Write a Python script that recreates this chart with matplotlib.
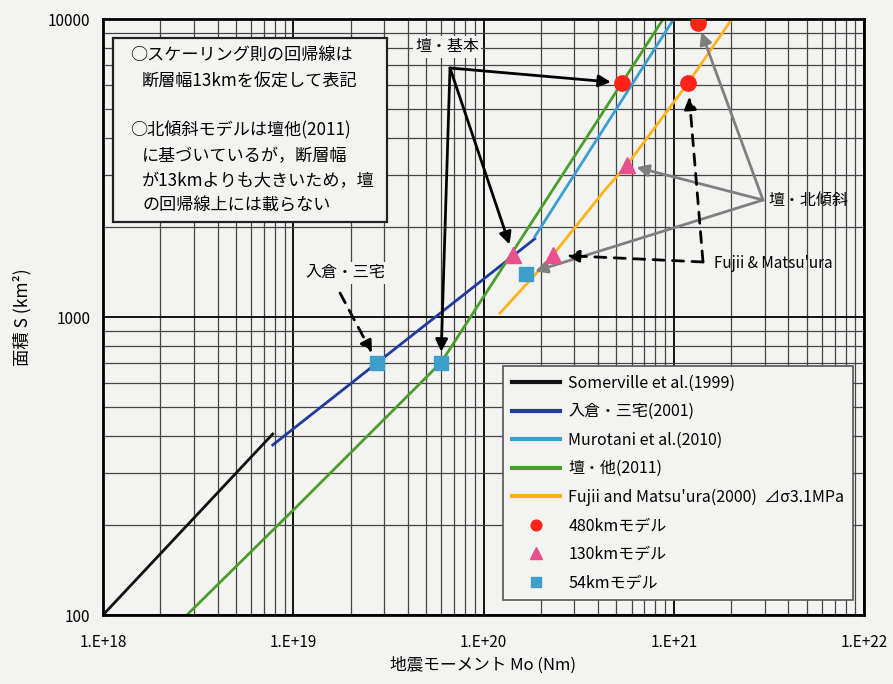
import matplotlib.pyplot as plt
from matplotlib.patches import Rectangle
from matplotlib.ticker import LogLocator, NullFormatter, FixedLocator, FixedFormatter

plt.rcParams['font.family'] = ['Noto Sans CJK JP', 'DejaVu Sans']

# scaling relations: seismic moment Mo (Nm) vs fault area S (km^2)
somerville_mo = [1.0e18, 7.8e18]
somerville_s = [100, 405]
irikura_mo = [7.8e18, 1.86e20]
irikura_s = [372, 1830]
murotani_mo = [1.86e20, 1.0e21]
murotani_s = [1860, 10000]
dan_mo = [2.76e18, 1.0e19, 6.0e19, 8.8e20]
dan_s = [100, 225, 705, 10000]
fujii_mo = [1.22e20, 2.32e20, 4.35e20, 5.68e20, 1.19e21, 2.02e21]
fujii_s = [1030, 1615, 2670, 3240, 6100, 10000]

# source models: 480km / 130km -> [壇・基本, Fujii & Matsu'ura, 壇・北傾斜]
#                54km         -> [入倉・三宅, 壇・基本, 壇・北傾斜]
m480_mo = [5.34e20, 1.19e21, 1.34e21]
m480_s = [6100, 6100, 9700]
m130_mo = [1.43e20, 2.32e20, 5.68e20]
m130_s = [1615, 1615, 3240]
m54_mo = [2.76e19, 5.97e19, 1.67e20]
m54_s = [702, 702, 1393]

x_ticks = [1e18, 1e19, 1e20, 1e21, 1e22]
x_tick_labels = ['1.E+18', '1.E+19', '1.E+20', '1.E+21', '1.E+22']
y_ticks = [100, 1000, 10000]
y_tick_labels = ['100', '1000', '10000']

W, H = 893, 684
bg = '#f3f3f1'
fig = plt.figure(figsize=(W / 100, H / 100), dpi=100, facecolor=bg)
ax = fig.add_axes([103 / W, 1 - 615 / H, 761 / W, 596 / H], facecolor=bg)


def fpx(x, y):
    """pixel position -> figure fraction"""
    return (x / W, 1 - y / H)


ax.set_xscale('log')
ax.set_yscale('log')
ax.set_xlim(1e18, 1e22)
ax.set_ylim(100, 10000)

ax.xaxis.set_major_locator(FixedLocator(x_ticks))
ax.xaxis.set_major_formatter(FixedFormatter(x_tick_labels))
ax.yaxis.set_major_locator(FixedLocator(y_ticks))
ax.yaxis.set_major_formatter(FixedFormatter(y_tick_labels))
for axis in (ax.xaxis, ax.yaxis):
    axis.set_minor_locator(LogLocator(base=10, subs=range(2, 10)))
    axis.set_minor_formatter(NullFormatter())
ax.grid(True, which='major', color='#111111', lw=1.4)
ax.grid(True, which='minor', color='#444444', lw=0.9)
ax.tick_params(which='both', length=0)
ax.tick_params(axis='x', pad=14, labelsize=11)
ax.tick_params(axis='y', pad=9, labelsize=11)
for sp in ax.spines.values():
    sp.set_linewidth(2)
    sp.set_color('black')
ax.set_axisbelow(True)

ax.set_xlabel('地震モーメント Mo (Nm)', fontsize=12, labelpad=4)
ax.set_ylabel('面積 S (km²)', fontsize=12.5, labelpad=12)

lw = 2.0
ax.plot(somerville_mo, somerville_s, color='#111111', lw=lw, label='Somerville et al.(1999)')
ax.plot(irikura_mo, irikura_s, color='#1f3c9c', lw=lw, label='入倉・三宅(2001)')
ax.plot(murotani_mo, murotani_s, color='#3a9fd2', lw=lw, label='Murotani et al.(2010)')
ax.plot(dan_mo, dan_s, color='#4a9e2a', lw=lw, label='壇・他(2011)')
ax.plot(fujii_mo, fujii_s, color='#ffb31a', lw=lw,
        label="Fujii and Matsu'ura(2000)  ⊿σ3.1MPa")

ax.plot(m480_mo, m480_s, 'o', color='#ff2318', ms=11, ls='none', label='480kmモデル', zorder=5)
ax.plot(m130_mo, m130_s, '^', color='#ea4f8e', ms=12, ls='none', label='130kmモデル', zorder=5)
ax.plot(m54_mo, m54_s, 's', color='#3c9ec9', ms=10.5, ls='none', label='54kmモデル', zorder=5)

leg = ax.legend(loc='lower right', bbox_to_anchor=(0.9855, 0.025), borderaxespad=0,
                fontsize=11.5, handlelength=3.0, handletextpad=0.5, labelspacing=0.72,
                markerscale=0.7, fancybox=False, framealpha=1, borderpad=0.55)
leg.get_frame().set_facecolor(bg)
leg.get_frame().set_edgecolor('#555555')
leg.get_frame().set_linewidth(1.2)
for h in leg.get_lines():
    h.set_linewidth(3)

# note box at the upper left
box = Rectangle(fpx(113, 222), 274 / W, 184 / H, transform=fig.transFigure,
                facecolor=bg, edgecolor='#222222', lw=1.6, zorder=6)
fig.patches.append(box)
note_lines = [
    (130, 55, '○スケーリング則の回帰線は'),
    (142, 82, '断層幅13kmを仮定して表記'),
    (130, 130, '○北傾斜モデルは壇他(2011)'),
    (142, 156, 'に基づいているが，断層幅'),
    (142, 181, 'が13kmよりも大きいため，壇'),
    (142, 205, 'の回帰線上には載らない'),
]
for x, y, s in note_lines:
    fig.text(*fpx(x, y), s, fontsize=12.3, ha='left', va='center', zorder=7)

# 壇・基本 arrows
fig.text(*fpx(447, 47), '壇・基本', fontsize=11.5, ha='center', va='center',
         bbox=dict(facecolor=bg, edgecolor='none', pad=1.5))
org = fpx(450, 68)
black_arrow = dict(arrowstyle='-|>', color='black', lw=2, mutation_scale=18)
for mo, s in [(m480_mo[0], m480_s[0]), (m130_mo[0], m130_s[0]), (m54_mo[1], m54_s[1])]:
    ax.annotate('', xy=(mo, s), xycoords='data', xytext=org, textcoords='figure fraction',
                arrowprops=dict(black_arrow, shrinkA=0, shrinkB=8), zorder=4)

# 壇・北傾斜 arrows
fig.text(*fpx(768, 200), '壇・北傾斜', fontsize=11.5, ha='left', va='center')
org = fpx(763, 200)
gray_arrow = dict(arrowstyle='-|>', color='#7f7f7f', lw=2, mutation_scale=18)
for mo, s in zip(m480_mo[2:] + m130_mo[2:] + m54_mo[2:], m480_s[2:] + m130_s[2:] + m54_s[2:]):
    ax.annotate('', xy=(mo, s), xycoords='data', xytext=org, textcoords='figure fraction',
                arrowprops=dict(gray_arrow, shrinkA=0, shrinkB=7), zorder=4)

# Fujii & Matsu'ura dashed arrows
fig.text(*fpx(714, 264), "Fujii & Matsu'ura", fontsize=11, ha='left', va='center')
org = fpx(703, 262)
dash_arrow = dict(arrowstyle='-|>', color='black', lw=2, ls=(0, (4, 3)), mutation_scale=18)
for mo, s in [(m480_mo[1], m480_s[1]), (m130_mo[1], m130_s[1])]:
    ax.annotate('', xy=(mo, s), xycoords='data', xytext=org, textcoords='figure fraction',
                arrowprops=dict(dash_arrow, shrinkA=0, shrinkB=10), zorder=4)

# 入倉・三宅 dashed arrow
fig.text(*fpx(345, 273), '入倉・三宅', fontsize=11.5, ha='center', va='center',
         bbox=dict(facecolor=bg, edgecolor='none', pad=1.5))
ax.annotate('', xy=(m54_mo[0], m54_s[0]), xycoords='data', xytext=fpx(340, 293),
            textcoords='figure fraction',
            arrowprops=dict(dash_arrow, shrinkA=0, shrinkB=8), zorder=4)

fig.savefig('out.png', dpi=100, facecolor=bg)
